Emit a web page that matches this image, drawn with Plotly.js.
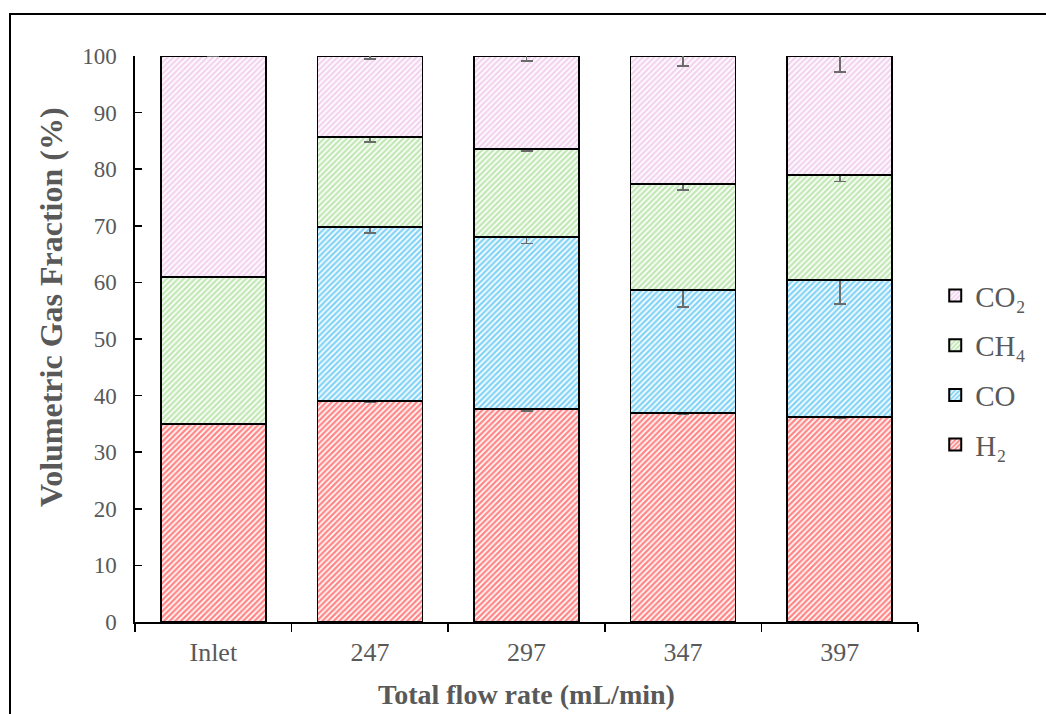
<!DOCTYPE html>
<html>
<head>
<meta charset="utf-8">
<script src="https://cdn.plot.ly/plotly-3.0.1.min.js"></script>
<style>
  html, body { margin: 0; padding: 0; background: #fff; }
  #wrap { position: relative; width: 1046px; height: 714px; overflow: hidden; }
  #chart { position: absolute; left: 0; top: 0; width: 1046px; height: 714px; }
  #frame { position: absolute; left: 9px; top: 13px; width: 1100px; height: 800px;
           border-top: 2px solid #000; border-left: 2px solid #000; pointer-events: none; }
</style>
</head>
<body>
<div id="wrap">
  <div id="chart"></div>
  <div id="frame"></div>
</div>
<script>
const categories = ["Inlet", "247", "297", "347", "397"];

const h2  = [35.0, 39.0, 37.6, 36.9, 36.2];
const co  = [0.0, 30.8, 30.4, 21.8, 24.2];
const ch4 = [26.0, 15.9, 15.6, 18.7, 18.6];
const co2 = [39.0, 14.3, 16.4, 22.6, 21.0];

const h2Err  = [0, 0.2, 0.3, 0.1, 0.2];
const coErr  = [0, 1.1, 1.1, 3.0, 4.2];
const ch4Err = [0, 0.9, 0.4, 1.1, 1.2];
const co2Err = [0, 0.5, 0.9, 1.8, 2.8];

const seriesNames  = ["H\u2082", "CO", "CH\u2084", "CO\u2082"];
const seriesValues = [h2, co, ch4, co2];
const seriesErrors = [h2Err, coErr, ch4Err, co2Err];
const seriesColors = ["#ff1010", "#0aa8ee", "#84d06a", "#e6a8e0"];

const serif = "Liberation Serif, Times New Roman, serif";

const traces = seriesNames.map((name, i) => ({
  type: "bar",
  name: name,
  legendgroup: "g" + i,
  legendrank: 10 - i,
  x: categories,
  y: seriesValues[i],
  width: 0.67,
  marker: {
    color: "#ffffff",
    line: { color: "#000000", width: 1.6 },
    pattern: { shape: "/", fgcolor: seriesColors[i], bgcolor: "#ffffff", size: 4, solidity: 0.6, fillmode: "overlay" }
  },
  error_y: {
    type: "data",
    array: seriesErrors[i],
    visible: true,
    color: "#6b6b6b",
    thickness: 1.6,
    width: 6
  },
  cliponaxis: true
}));

const layout = {
  width: 1046,
  height: 714,
  margin: { l: 135, r: 128, t: 56, b: 92 },
  paper_bgcolor: "rgba(0,0,0,0)",
  plot_bgcolor: "rgba(0,0,0,0)",
  barmode: "stack",
  showlegend: true,
  legend: {
    traceorder: "grouped",
    x: 1.022, xanchor: "left",
    y: 0.445, yanchor: "middle",
    font: { family: serif, size: 29, color: "#595959" },
    itemsizing: "constant",
    tracegroupgap: 9,
    itemwidth: 30,
    bgcolor: "rgba(0,0,0,0)"
  },
  xaxis: {
    type: "category",
    showline: true,
    linecolor: "#000000",
    linewidth: 1.6,
    ticks: "outside",
    tickson: "boundaries",
    ticklen: 8,
    tickwidth: 1.6,
    tickcolor: "#000000",
    tickfont: { family: serif, size: 26, color: "#595959" },
    ticklabelstandoff: 6,
    showgrid: false,
    zeroline: false,
    title: { text: "<b>Total flow rate (mL/min)</b>", font: { family: serif, size: 28, color: "#595959" }, standoff: 18 }
  },
  yaxis: {
    range: [0, 100],
    dtick: 10,
    showline: true,
    linecolor: "#000000",
    linewidth: 1.6,
    ticks: "inside",
    ticklen: 7,
    tickwidth: 1.6,
    tickcolor: "#000000",
    tickfont: { family: serif, size: 23, color: "#595959" },
    ticklabelstandoff: 12,
    showgrid: false,
    zeroline: false
  },
  annotations: [{
    text: "<b>Volumetric Gas Fraction (%)</b>",
    textangle: -90,
    xref: "paper", yref: "paper",
    x: (51 - 135) / 783, y: (622 - 307) / 566,
    xanchor: "center", yanchor: "middle",
    showarrow: false,
    font: { family: serif, size: 32, color: "#595959" }
  }]
};

Plotly.newPlot("chart", traces, layout, { displayModeBar: false, staticPlot: true });
</script>
</body>
</html>
